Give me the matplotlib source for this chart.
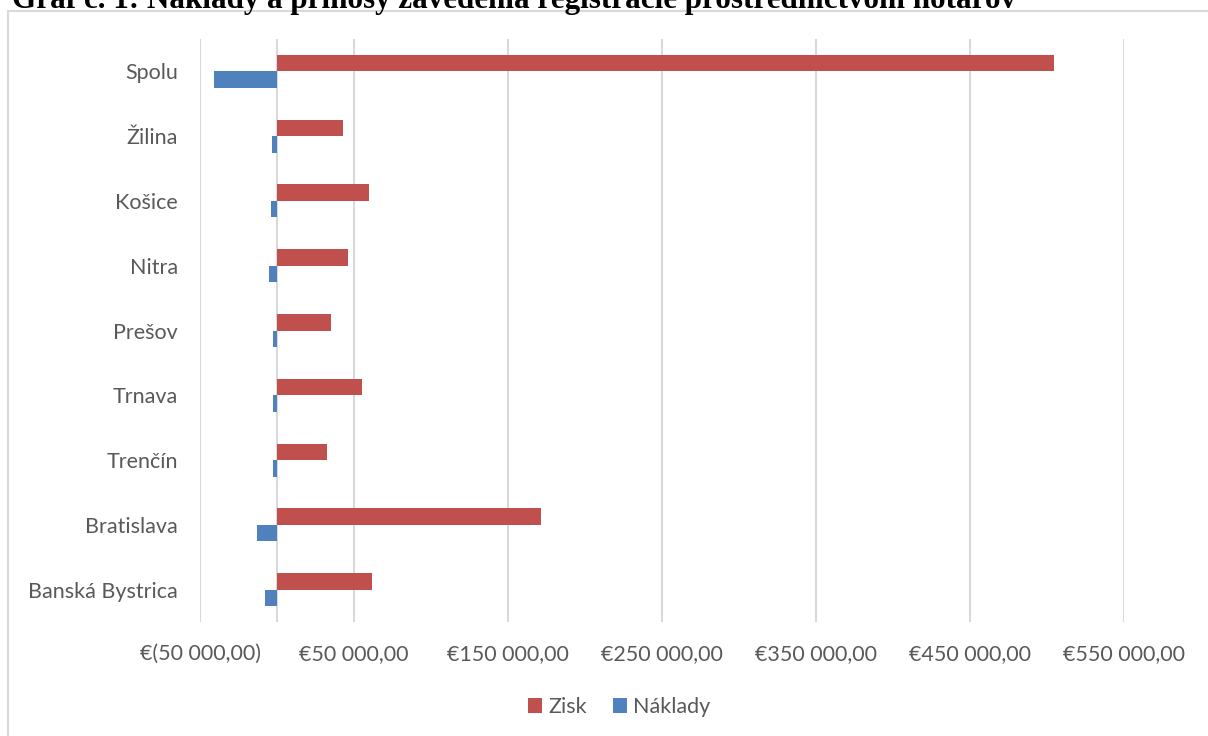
import matplotlib.pyplot as plt
from matplotlib.patches import Rectangle
from matplotlib.ticker import FuncFormatter, MultipleLocator

# data, bottom to top
kraje = ["Banská Bystrica", "Bratislava", "Trenčín", "Trnava", "Prešov",
         "Nitra", "Košice", "Žilina", "Spolu"]
zisk = [61700, 171400, 32300, 55400, 35300, 45900, 60000, 42600, 504500]
naklady = [-7600, -12800, -2400, -2800, -2400, -5400, -3900, -3000, -40900]

plt.rcParams['font.family'] = ['Lato', 'DejaVu Sans']
W, H = 1208, 736
fig = plt.figure(figsize=(W / 100, H / 100), dpi=100)

# chart frame, cut off at right/bottom like the reference
fig.patches.append(Rectangle((8 / W, -0.1), 1.2, (H - 11) / H + 0.1,
                             transform=fig.transFigure, fill=False,
                             edgecolor='#d9d9d9', lw=1.5))

fig.text(12 / W, 1 - 8 / H,
         "Graf č. 1: Náklady a prínosy zavedenia registrácie prostredníctvom notárov",
         family='Liberation Serif', weight='bold', fontsize=22.4,
         ha='left', va='baseline')

ax = fig.add_axes([200 / W, 1 - 622 / H, 924 / W, 583 / H])

y = list(range(len(kraje)))
h = 0.255
ax.barh([v + h / 2 for v in y], zisk, height=h, color='#C0504D', label='Zisk', zorder=3)
ax.barh([v - h / 2 for v in y], naklady, height=h, color='#4F81BD', label='Náklady', zorder=3)

ax.set_xlim(-50000, 550000)
ax.set_ylim(-0.5, len(kraje) - 0.5)
ax.xaxis.set_major_locator(MultipleLocator(100000, offset=50000))


def euro(v, pos):
    s = f"{abs(v):,.2f}".replace(",", " ").replace(".", ",")
    return f"€({s})" if v < 0 else f"€{s}"


ax.xaxis.set_major_formatter(FuncFormatter(euro))
ax.set_yticks(y)
ax.set_yticklabels(kraje)
ax.grid(axis='x', color='#d9d9d9', lw=1.5, zorder=0)
ax.axvline(0, color='#d9d9d9', lw=1.5, zorder=2)
for s in ax.spines.values():
    s.set_visible(False)
ax.tick_params(axis='both', length=0, colors='#595959', labelsize=15.5)
ax.tick_params(axis='y', pad=16)
ax.tick_params(axis='x', pad=16)

fig.legend(loc='center', bbox_to_anchor=(619 / W, 1 - 707 / H), ncol=2,
           frameon=False, fontsize=15.5, labelcolor='#595959',
           handlelength=0.65, handleheight=0.65, handletextpad=0.3, columnspacing=1.2)

fig.savefig("out.png", dpi=100)
